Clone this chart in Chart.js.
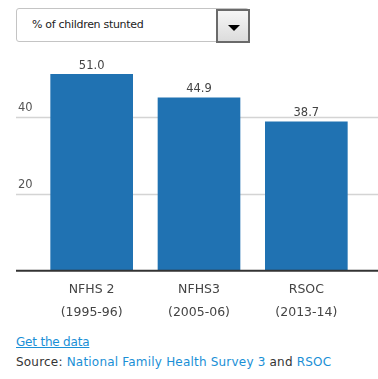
<!DOCTYPE html>
<html>
<head>
<meta charset="utf-8">
<script src="https://cdn.jsdelivr.net/npm/chart.js@4"></script>
<style>
  body { margin: 0; background: #fff; font-family: "DejaVu Sans", Verdana, sans-serif; }
  #wrap { position: relative; width: 378px; height: 379px; overflow: hidden; }
  .select {
    position: absolute; left: 16px; top: 8px; width: 233px; height: 34px;
    border: 1px solid #c4c4c4; border-radius: 3px; box-sizing: border-box;
  }
  .select span {
    position: absolute; left: 15px; top: 9px; font-size: 11px; color: #222; letter-spacing: -0.3px;
  }
  .select .btn {
    position: absolute; right: -2px; top: 0px; width: 34px; height: 34px; box-sizing: border-box;
    border: 2px solid #6a6a6a; background: linear-gradient(#f6f6f6, #dcdcdc);
  }
  .select .btn:after {
    content: ""; position: absolute; left: 10px; top: 14px;
    border-left: 6px solid transparent; border-right: 6px solid transparent; border-top: 6px solid #000;
  }
  #chartBox { position: absolute; left: 0; top: 50px; width: 378px; height: 273px; }
  .link { position: absolute; left: 16px; top: 335px; font-size: 12px; color: #1a8fd6; text-decoration: underline; letter-spacing: -0.2px; }
  .source { position: absolute; left: 16px; top: 355px; font-size: 12px; color: #333; letter-spacing: 0.2px; }
  .source a { color: #1a8fd6; text-decoration: none; }
</style>
</head>
<body>
<div id="wrap">
  <div class="select"><span>% of children stunted</span><div class="btn"></div></div>
  <div id="chartBox"><canvas id="chart"></canvas></div>
  <div class="link">Get the data</div>
  <div class="source">Source: <a>National Family Health Survey 3</a> and <a>RSOC</a></div>
</div>
<script>
// data
const categories = [["NFHS 2", "(1995-96)"], ["NFHS3", "(2005-06)"], ["RSOC", "(2013-14)"]];
const stunted = [51.0, 44.9, 38.7];
const yTicks = [20, 40];

const FONT = "'DejaVu Sans', Verdana, sans-serif";

// gridlines, y labels, baseline and value labels
const decorations = {
    id: "decorations",
    beforeDatasetsDraw(chart) {
        const ctx = chart.ctx;
        const y = chart.scales.y;
        const w = chart.width;
        ctx.save();
        ctx.font = "11.5px " + FONT;
        ctx.textBaseline = "alphabetic";
        ctx.textAlign = "left";
        yTicks.forEach(t => {
            const py = Math.round(y.getPixelForValue(t)) + 0.5;
            ctx.strokeStyle = "#d4d4d4";
            ctx.lineWidth = 1.5;
            ctx.beginPath();
            ctx.moveTo(16, py);
            ctx.lineTo(w, py);
            ctx.stroke();
            ctx.fillStyle = "#555";
            ctx.fillText(String(t), 18, py - 7);
        });
        ctx.restore();
    },
    afterDatasetsDraw(chart) {
        const ctx = chart.ctx;
        const y = chart.scales.y;
        const meta = chart.getDatasetMeta(0);
        ctx.save();
        const base = y.getPixelForValue(0);
        ctx.strokeStyle = "#333";
        ctx.lineWidth = 2;
        ctx.beginPath();
        ctx.moveTo(16, base);
        ctx.lineTo(chart.width, base);
        ctx.stroke();
        ctx.font = "11.5px " + FONT;
        ctx.fillStyle = "#444";
        ctx.textAlign = "center";
        ctx.textBaseline = "bottom";
        meta.data.forEach((bar, i) => {
            ctx.fillText(stunted[i].toFixed(1), bar.x, bar.y - 3);
        });
        ctx.restore();
    }
};

new Chart(document.getElementById("chart"), {
    type: "bar",
    data: {
        labels: categories,
        datasets: [{
            data: stunted,
            backgroundColor: "#2072b2",
            borderWidth: 0,
            barThickness: 82
        }]
    },
    options: {
        responsive: true,
        maintainAspectRatio: false,
        animation: false,
        layout: { padding: { left: 38, right: 18, top: 9, bottom: 0 } },
        plugins: { legend: { display: false }, tooltip: { enabled: false } },
        scales: {
            x: {
                grid: { display: false },
                border: { display: false },
                ticks: {
                    color: "#444",
                    padding: -1,
                    font: { family: FONT, size: 12.5, lineHeight: 1.85 }
                }
            },
            y: {
                display: false,
                min: 0,
                max: 55
            }
        }
    },
    plugins: [decorations]
});
</script>
</body>
</html>
